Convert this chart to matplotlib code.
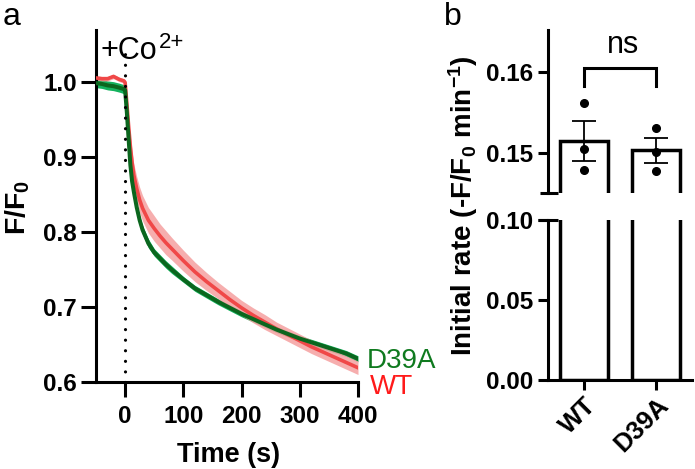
import matplotlib
matplotlib.use('Agg')
import matplotlib.pyplot as plt
import matplotlib.transforms as mtrans
from matplotlib.lines import Line2D
from matplotlib.ticker import FormatStrFormatter
import numpy as np

plt.rcParams['font.family'] = ['Liberation Sans', 'DejaVu Sans']
plt.rcParams['mathtext.fontset'] = 'custom'
plt.rcParams['mathtext.rm'] = 'Liberation Sans'
plt.rcParams['mathtext.it'] = 'Liberation Sans:italic'
plt.rcParams['mathtext.bf'] = 'Liberation Sans:bold'

# ---------------- data ----------------
time = [-50, -40, -30, -20, -10, -2, 0, 3, 6, 9, 12, 15, 20, 25, 30, 40, 50, 60,
        70, 80, 100, 120, 140, 160, 180, 200, 220, 240, 260, 280, 300, 320, 340,
        360, 380, 400]
wt_mean = [1.006, 1.005, 1.005, 1.008, 1.004, 1.002, 1.000, 0.972, 0.942, 0.915,
           0.893, 0.876, 0.858, 0.843, 0.832, 0.816, 0.805, 0.795, 0.786, 0.778,
           0.762, 0.747, 0.734, 0.722, 0.710, 0.699, 0.689, 0.680, 0.671, 0.663,
           0.655, 0.647, 0.640, 0.633, 0.626, 0.619]
wt_sem = [0.003, 0.003, 0.003, 0.003, 0.003, 0.003, 0.003, 0.006, 0.010, 0.013,
          0.014, 0.015, 0.016, 0.017, 0.017, 0.017, 0.017, 0.016, 0.016, 0.015,
          0.014, 0.013, 0.012, 0.011, 0.011, 0.010, 0.010, 0.010, 0.009, 0.009,
          0.009, 0.009, 0.009, 0.009, 0.009, 0.009]
d39a_mean = [0.999, 0.998, 0.996, 0.995, 0.993, 0.991, 0.990, 0.960, 0.925, 0.890,
             0.868, 0.854, 0.833, 0.816, 0.803, 0.785, 0.773, 0.765, 0.757, 0.750,
             0.737, 0.725, 0.716, 0.707, 0.699, 0.691, 0.684, 0.677, 0.670, 0.664,
             0.658, 0.653, 0.648, 0.643, 0.638, 0.631]
d39a_sem = [0.006, 0.006, 0.006, 0.006, 0.006, 0.006, 0.006, 0.006, 0.006, 0.006,
            0.006, 0.006, 0.006, 0.006, 0.006, 0.006, 0.005, 0.005, 0.005, 0.005,
            0.004, 0.004, 0.004, 0.004, 0.004, 0.004, 0.004, 0.004, 0.004, 0.004,
            0.004, 0.004, 0.004, 0.004, 0.004, 0.004]

groups = ['WT', 'D39A']
wt_rates = [0.1561, 0.1505, 0.1478]
d39a_rates = [0.1531, 0.1501, 0.1477]

xticks_a = [0, 100, 200, 300, 400]
yticks_a = [0.6, 0.7, 0.8, 0.9, 1.0]

# ---------------- figure ----------------
W, H = 695, 469
fig = plt.figure(figsize=(W / 100, H / 100), dpi=100)


def fx(px):
    return px / W


def fy(py):
    return 1 - py / H


LW = 2.2
TICKFS = 17.5

RED_LINE = '#F04848'
RED_BAND = '#F5A0A0'
GREEN_LINE = '#0B661E'
GREEN_BAND = '#14B25E'

# ---------- panel a ----------
axA = fig.add_axes([fx(96), fy(382), fx(358) - fx(96), fy(30) - fy(382)])
t = np.array(time)
wm, ws = np.array(wt_mean), np.array(wt_sem)
dm, ds = np.array(d39a_mean), np.array(d39a_sem)
axA.fill_between(t, dm - ds, dm + ds, color=GREEN_BAND, lw=0, zorder=1)
axA.fill_between(t, wm - ws, wm + ws, color=RED_BAND, lw=0, alpha=0.85, zorder=2)
axA.plot(t, wm, color=RED_LINE, lw=2.6, zorder=3)
axA.plot(t, dm, color=GREEN_LINE, lw=2.9, zorder=4)
axA.plot([0, 0], [0.6, 1.04], color='black', lw=2.3,
         linestyle=(0, (0.01, 3.3)), dash_capstyle='round', zorder=5)

axA.set_xlim(-50, 400)
axA.set_ylim(0.6, 1.07)
axA.set_xticks(xticks_a)
axA.set_yticks(yticks_a)
axA.yaxis.set_major_formatter(FormatStrFormatter('%.1f'))
for s in ['top', 'right']:
    axA.spines[s].set_visible(False)
for s in ['left', 'bottom']:
    axA.spines[s].set_linewidth(LW)
axA.tick_params(axis='both', width=LW, length=10.5, labelsize=TICKFS)
axA.tick_params(axis='x', pad=6)
axA.tick_params(axis='y', pad=3)
for lab in axA.get_xticklabels() + axA.get_yticklabels():
    lab.set_fontweight('bold')

fig.text(fx(229), fy(461.5), 'Time (s)', ha='center', va='baseline',
         fontsize=19.5, fontweight='bold')
fig.text(fx(18), fy(207), r'F/F$_\mathbf{0}$', ha='center', va='center',
         rotation=90, fontsize=20.5, fontweight='bold')
fig.text(fx(100), fy(59), '+Co', ha='left', va='baseline', fontsize=22)
fig.text(fx(159), fy(48), '2+', ha='left', va='baseline', fontsize=16)
fig.text(fx(367), fy(368), 'D39A', ha='left', va='baseline', fontsize=20,
         color='#0F7A1F')
fig.text(fx(370), fy(394), 'WT', ha='left', va='baseline', fontsize=20,
         color='#FF1A1A')
fig.text(fx(3), fy(25), 'a', ha='left', va='baseline', fontsize=23)
fig.text(fx(444), fy(25), 'b', ha='left', va='baseline', fontsize=23)

# ---------- panel b ----------
axT = fig.add_axes([fx(548), fy(193), fx(692) - fx(548), fy(30) - fy(193)])
axB = fig.add_axes([fx(548), fy(380), fx(692) - fx(548), fy(220) - fy(380)])

rates = [np.array(wt_rates), np.array(d39a_rates)]
means = [r.mean() for r in rates]
sems = [r.std(ddof=1) / np.sqrt(len(r)) for r in rates]
xpos = np.arange(len(groups))

for ax in (axT, axB):
    ax.bar(xpos, means, width=0.68, color='white', edgecolor='black',
           linewidth=2.5, zorder=2)
    ax.set_xlim(-0.5, 1.5)
    for s in ['top', 'right']:
        ax.spines[s].set_visible(False)
    ax.spines['left'].set_linewidth(LW)
    ax.spines['bottom'].set_linewidth(LW)
    ax.tick_params(axis='both', width=LW, length=7.5, labelsize=TICKFS, pad=3)
    ax.yaxis.set_major_formatter(FormatStrFormatter('%.2f'))

axT.errorbar(xpos, means, yerr=sems, fmt='none', ecolor='black',
             elinewidth=1.3, capsize=8.5, capthick=1.3, zorder=3)
for i, r in enumerate(rates):
    axT.plot(np.full(len(r), xpos[i]), r, 'o', color='black', ms=5.5, zorder=4)

axT.set_ylim(0.145, 0.1652)
axT.set_yticks([0.15, 0.16])
axT.spines['bottom'].set_visible(False)
axT.tick_params(axis='x', which='both', bottom=False, labelbottom=False)

axB.set_ylim(0, 0.10)
axB.set_yticks([0.00, 0.05, 0.10])
axB.set_xticks(xpos)
axB.set_xticklabels(groups, rotation=45, ha='right', va='top',
                    rotation_mode='anchor', fontsize=18.5)
axB.tick_params(axis='x', pad=2)

for ax in (axT, axB):
    for lab in ax.get_xticklabels() + ax.get_yticklabels():
        lab.set_fontweight('bold')

# break caps
trT = mtrans.blended_transform_factory(fig.transFigure, axT.transAxes)
trB = mtrans.blended_transform_factory(fig.transFigure, axB.transAxes)
fig.add_artist(Line2D([fx(540), fx(558)], [0, 0], transform=trT, color='black',
                      lw=LW, solid_capstyle='butt'))
fig.add_artist(Line2D([fx(538), fx(558)], [1, 1], transform=trB, color='black',
                      lw=LW, solid_capstyle='butt'))

# significance bracket
axT.plot([0, 0, 1, 1], [0.1582, 0.16046, 0.16046, 0.1582], color='black',
         lw=2.2, clip_on=False, solid_joinstyle='miter', zorder=5)
axT.text(0.54, 0.16235, 'ns', ha='center', va='baseline', fontsize=22)

fig.text(fx(463), fy(206), r'Initial rate (-F/F$_\mathbf{0}$ min$^\mathbf{-1}$)',
         ha='center', va='center', rotation=90, fontsize=20, fontweight='bold')

fig.savefig('out.png', dpi=100)
